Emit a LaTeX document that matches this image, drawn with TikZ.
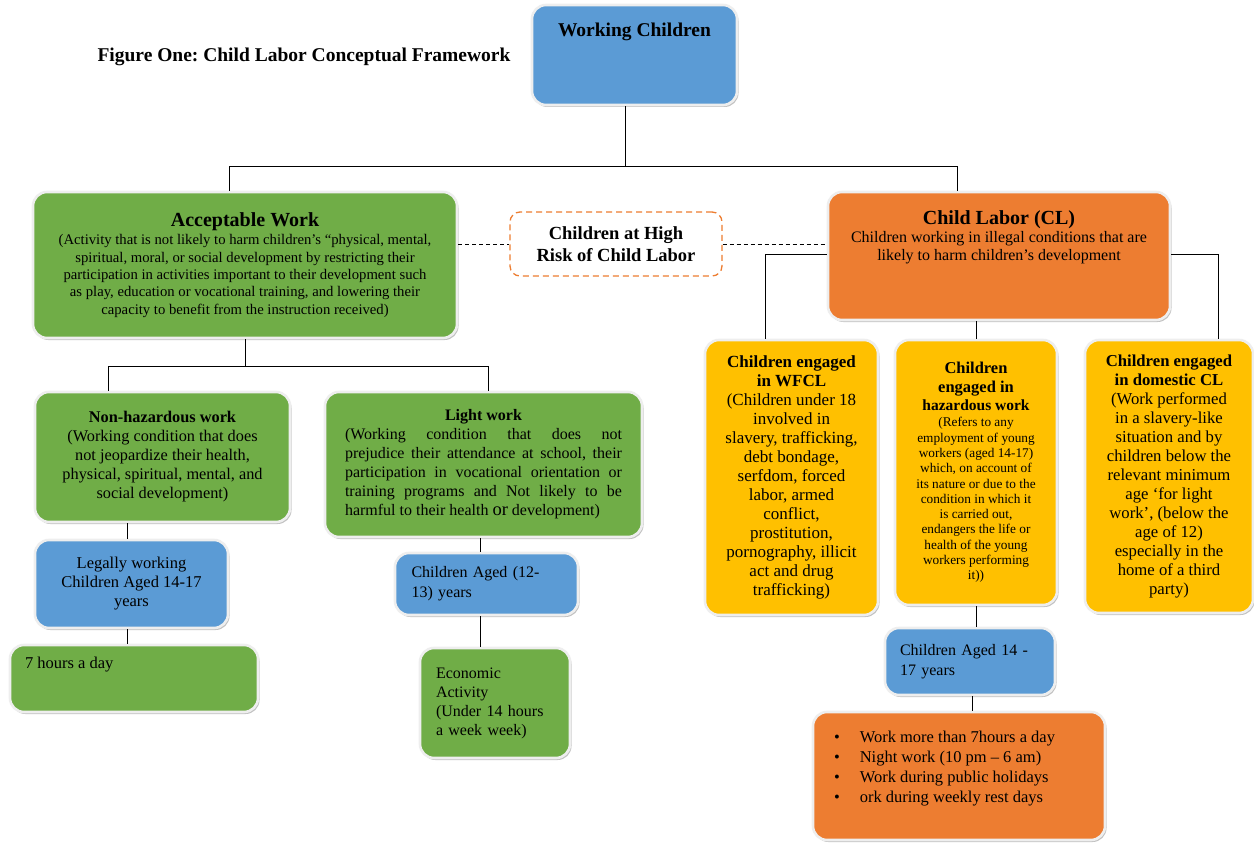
\documentclass[tikz,border=0pt]{standalone}
\usepackage{fontspec}
\setmainfont{Liberation Serif}
\usepackage{xcolor}
\usepackage{tikz}
\usetikzlibrary{shapes.geometric, arrows, positioning, shadows}
\definecolor{cardblue}{RGB}{91, 155, 213}
\definecolor{cardgreen}{RGB}{112, 173, 71}
\definecolor{cardorange}{RGB}{237, 125, 49}
\definecolor{cardyellow}{RGB}{255, 192, 0}
\definecolor{ringgray}{RGB}{238, 238, 238}
\newcommand{\cardtop}[3]{\begin{minipage}[t][#2][t]{#1}#3\end{minipage}}
\newcommand{\bigbf}[1]{{\bfseries\fontsize{16.5}{19}\selectfont #1}}
\frenchspacing

\begin{document}
\begin{tikzpicture}[
  x=1pt, y=-1pt,
  card/.style={rectangle, draw=ringgray, line width=2.6pt, rounded corners=14pt, drop shadow={shadow xshift=1.5pt, shadow yshift=-2pt, fill=black!40, opacity=0.6}, inner sep=0pt, align=center, font=\fontsize{16.5}{19}\selectfont},
  bluecard/.style={card, fill=cardblue},
  greencard/.style={card, fill=cardgreen},
  orangecard/.style={card, fill=cardorange},
  yellowcard/.style={card, fill=cardyellow},
  riskbox/.style={rectangle, draw=cardorange, dash pattern=on 6pt off 4pt, line width=1.3pt, rounded corners=10pt, fill=white, minimum width=212pt, minimum height=64pt, align=center, font=\bfseries\fontsize{18.5}{22}\selectfont},
  link/.style={draw=black, line width=0.8pt},
  dashlink/.style={link, dash pattern=on 4pt off 3pt}
]
  \useasboundingbox[fill=white] (0,0) rectangle (1254,843);

  % Nodes
  \node[font=\bfseries\fontsize{19.5}{22}\selectfont] (figtitle) at (304,57) {Figure One: Child Labor Conceptual Framework};

  \node[bluecard, minimum width=205pt, minimum height=100pt] (wc) at (634.5,55)
    {\cardtop{190pt}{64pt}{\centering\bfseries\fontsize{19.5}{22}\selectfont Working Children}};

  \node[greencard, minimum width=424pt, minimum height=146pt, font=\fontsize{14.7}{17.3}\selectfont] (acc) at (245,265)
    {\textbf{\fontsize{20}{22}\selectfont Acceptable Work}\\[1pt]
     (Activity that is not likely to harm children’s “physical, mental,\\
     spiritual, moral, or social development by restricting their\\
     participation in activities important to their development such\\
     as play, education or vocational training, and lowering their\\
     capacity to benefit from the instruction received)};

  \node[riskbox] (risk) at (616,244) {Children at High\\Risk of Child Labor};

  \node[orangecard, minimum width=342pt, minimum height=128pt, font=\fontsize{16}{18}\selectfont] (cl) at (999,256)
    {\cardtop{330pt}{90pt}{\centering{\bfseries\fontsize{20}{22}\selectfont Child Labor (CL)\par}
     Children working in illegal conditions that are\\
     likely to harm children’s development}};

  \node[yellowcard, minimum width=173pt, minimum height=275pt, font=\fontsize{17}{19}\selectfont] (wfcl) at (791.5,477.5)
    {\textbf{Children engaged}\\ \textbf{in WFCL}\\ (Children under 18\\ involved in\\ slavery, trafficking,\\ debt bondage,\\ serfdom, forced\\ labor, armed\\ conflict,\\ prostitution,\\ pornography, illicit\\ act and drug\\ trafficking)};

  \node[yellowcard, minimum width=162pt, minimum height=265pt, font=\fontsize{13.3}{15.3}\selectfont] (haz) at (976,472.5)
    {\bigbf{Children}\\[3.7pt] \bigbf{engaged in}\\[2.7pt] \textbf{\fontsize{15.5}{18}\selectfont hazardous work}\\[0.7pt]
     (Refers to any\\ employment of young\\ workers (aged 14-17)\\ which, on account of\\ its nature or due to the\\ condition in which it\\ is carried out,\\ endangers the life or\\ health of the young\\ workers performing\\ it))};

  \node[yellowcard, minimum width=168pt, minimum height=273pt, font=\fontsize{16.7}{19}\selectfont] (dom) at (1169,476.5)
    {\textbf{Children engaged}\\ \textbf{in domestic CL}\\ (Work performed\\ in a slavery-like\\ situation and by\\ children below the\\ relevant minimum\\ age ‘for light\\ work’, (below the\\ age of 12)\\ especially in the\\ home of a third\\ party)};

  \node[greencard, minimum width=255pt, minimum height=130pt, font=\fontsize{16.3}{19}\selectfont] (nonhaz) at (162.5,457)
    {\textbf{Non-hazardous work}\\ (Working condition that does\\ not jeopardize their health,\\ physical, spiritual, mental, and\\ social development)};

  \node[greencard, minimum width=317pt, minimum height=145pt, font=\fontsize{16}{19}\selectfont] (light) at (483.5,464.5)
    {\begin{minipage}{277pt}{\centering\textbf{Light work}\par}
     (Working condition that does not\linebreak
     prejudice their attendance at school, their\linebreak
     participation in vocational orientation or\linebreak
     training programs and Not likely to be\linebreak
     harmful to their health {\fontsize{18.5}{19}\selectfont or} development)\end{minipage}};

  \node[bluecard, minimum width=193pt, minimum height=88pt] (legal) at (131.5,584)
    {Legally working\\ Children Aged 14-17\\ years};

  \node[greencard, minimum width=248pt, minimum height=67pt] (seven) at (134,678.5)
    {\cardtop{218pt}{43pt}{7 hours a day}};

  \node[bluecard, minimum width=183pt, minimum height=62pt, text width=150pt, align=left, font=\fontsize{16}{20}\selectfont] (age1213) at (486.5,584)
    {Children Aged (12-\\ 13) years};

  \node[greencard, minimum width=150pt, minimum height=110pt, text width=118pt, align=left, font=\fontsize{16}{19}\selectfont] (econ) at (495,703)
    {Economic\\ Activity\\ (Under 14 hours\\ a week week)};

  \node[bluecard, minimum width=170pt, minimum height=67pt, text width=140pt, align=left, font=\fontsize{16}{20}\selectfont] (age1417) at (970,661.5)
    {Children Aged 14 -\\ 17 years};

  \node[orangecard, minimum width=292pt, minimum height=128pt, font=\fontsize{16.5}{20}\selectfont] (rights) at (959,776)
    {\cardtop{250pt}{96pt}{\begin{tabular}{@{}l@{\hspace{20pt}}l@{}}
       \textbullet & Work more than 7hours a day\\
       \textbullet & Night work (10 pm – 6 am)\\
       \textbullet & Work during public holidays\\
       \textbullet & ork during weekly rest days
     \end{tabular}}};

  % Paths
  \draw[link] ([xshift=-9pt]wc.south) -- ++(0,60) coordinate (topsplit);
  \draw[link] ([xshift=-16pt]acc.north) |- (topsplit) -| ([xshift=-42pt]cl.north);
  \draw[dashlink] (acc.east |- risk.west) -- (risk.west);
  \draw[dashlink] (risk.east) -- (risk.east -| cl.west);

  \draw[link] ([yshift=2pt]cl.west) -| ([xshift=-26pt]wfcl.north);
  \draw[link] (cl.south -| haz.north) -- (haz.north);
  \draw[link] ([yshift=2pt]cl.east) -| ([xshift=49pt]dom.north);

  \draw[link] (acc.south) -- ++(0,27) coordinate (accsplit);
  \draw[link] ([xshift=-54pt]nonhaz.north) |- (accsplit) -| ([xshift=5pt]light.north);

  \draw[link] ([xshift=-4pt]legal.north) -- ([xshift=-4pt]legal.north |- nonhaz.south);
  \draw[link] ([xshift=-4pt]legal.south) -- ([xshift=-4pt]legal.south |- seven.north);
  \draw[link] ([xshift=-6pt]age1213.north) -- ([xshift=-6pt]age1213.north |- light.south);
  \draw[link] ([xshift=-6pt]age1213.south) -- ([xshift=-6pt]age1213.south |- econ.north);
  \draw[link] (haz.south) -- (haz.south |- age1417.north);
  \draw[link] ([xshift=2pt]age1417.south) -- ([xshift=2pt]age1417.south |- rights.north);
\end{tikzpicture}
\end{document}
